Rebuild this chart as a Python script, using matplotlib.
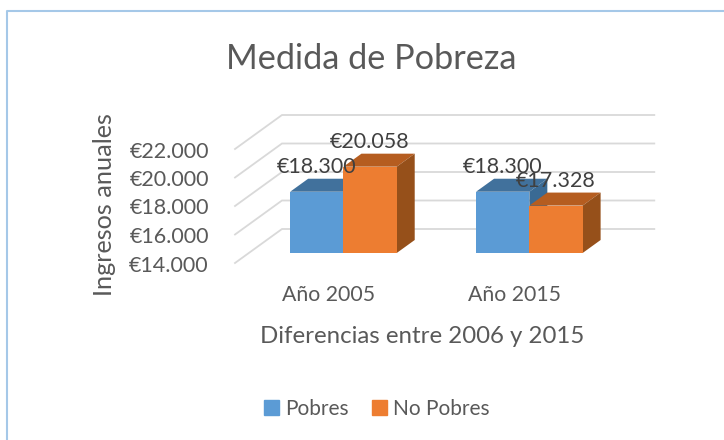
import matplotlib
matplotlib.use('Agg')
import matplotlib.pyplot as plt
import numpy as np
from matplotlib.patches import Patch
from matplotlib.lines import Line2D
from matplotlib.transforms import ScaledTranslation

categorias = ['Año 2005', 'Año 2015']
pobres = [18300, 18300]
no_pobres = [20058, 17328]
ticks = [14000, 16000, 18000, 20000, 22000]
tick_labels = ['€14.000', '€16.000', '€18.000', '€20.000', '€22.000']
etiquetas_pobres = ['€18.300', '€18.300']
etiquetas_no_pobres = ['€20.058', '€17.328']

plt.rcParams['font.family'] = ['Lato', 'DejaVu Sans']
GRIS = '#595959'

fig = plt.figure(figsize=(7.24, 4.40), dpi=100)
# el plano frontal de las barras va de x=250.5 a 622.3 px, y=253 a 139 px
ax = fig.add_axes([250.5/724, 1-253/440, 371.8/724, 114/440])
ax.set_xlim(-0.5, 1.5)
ax.set_ylim(14000, 22000)
ax.patch.set_alpha(0)
for s in ax.spines.values():
    s.set_visible(False)

# factores px -> datos
ux = 1/186.
uy = 2000/28.5
w = 53.3*ux

# piso/pared: lineas de la cuadricula
for v in ticks:
    x0, y0 = -0.5-15.5*ux, v-10*uy
    x1, y1 = -0.5+31.5*ux, v+24*uy
    x2 = 1.5+32*ux
    ax.plot([x0, x1, x2], [y0, y1, y1], color='#D9D9D9', lw=1.3, clip_on=False, zorder=1, solid_joinstyle='miter')

def barra3d(x, v, color, top, side, zo):
    dx, dy = 18*ux, 13*uy
    b = 14000
    ax.fill([x, x+w, x+w+dx, x+dx], [v, v, v+dy, v+dy], color=top, lw=0, clip_on=False, zorder=zo)
    ax.fill([x+w, x+w+dx, x+w+dx, x+w], [b, b+dy, v+dy, v], color=side, lw=0, clip_on=False, zorder=zo)
    ax.bar(x, v-b, w, bottom=b, align='edge', color=color, lw=0, clip_on=False, zorder=zo+0.1)

for i in range(len(categorias)):
    barra3d(i-w, pobres[i], '#5B9BD5', '#41719C', '#3A6A94', 2+i*2)
    barra3d(i, no_pobres[i], '#ED7D31', '#B55D20', '#96501A', 3+i*2)

# etiquetas de datos
for i in range(len(categorias)):
    ax.annotate(etiquetas_pobres[i], (i-w/2, pobres[i]), xytext=(0, 25), textcoords='offset pixels',
                ha='center', va='center', fontsize=15.5, color='#404040', zorder=10, annotation_clip=False)
    ax.annotate(etiquetas_no_pobres[i], (i+w/2, no_pobres[i]), xytext=(0, 25), textcoords='offset pixels',
                ha='center', va='center', fontsize=15.5, color='#404040', zorder=10, annotation_clip=False)

# ejes
ax.set_yticks(ticks)
ax.set_yticklabels(tick_labels, fontsize=15.5, color=GRIS)
ax.set_xticks(range(len(categorias)))
ax.set_xticklabels(categorias, fontsize=15.3, color=GRIS)
ax.tick_params(axis='both', length=0)
ax.tick_params(axis='y', pad=30)
ax.tick_params(axis='x', pad=23)
off_y = ScaledTranslation(0, -10.5/100, fig.dpi_scale_trans)
for t in ax.get_yticklabels():
    t.set_transform(t.get_transform()+off_y)
off_x = ScaledTranslation(-14.5/100, 0, fig.dpi_scale_trans)
for t in ax.get_xticklabels():
    t.set_transform(t.get_transform()+off_x)

fig.text(371/724, 1-59/440, 'Medida de Pobreza', fontsize=24.7, color=GRIS, ha='center', va='center')
fig.text(422/724, 1-336/440, 'Diferencias entre 2006 y 2015', fontsize=17.3, color=GRIS, ha='center', va='center')
fig.text(104/724, 1-205/440, 'Ingresos anuales', fontsize=18.2, color=GRIS, ha='center', va='center', rotation=90)

# leyenda
h = [Patch(color='#5B9BD5', label='Pobres'), Patch(color='#ED7D31', label='No Pobres')]
fig.legend(handles=h, loc='center', bbox_to_anchor=(377/724, 1-409/440), ncol=2, frameon=False,
           fontsize=15, labelcolor=GRIS, handlelength=0.7, handleheight=0.7, handletextpad=0.3, columnspacing=1.15)

# marco del grafico
fig.add_artist(Line2D([7/724, 7/724, 1], [0, 1-11/440, 1-11/440], color='#A5C8E8', lw=1.5, transform=fig.transFigure))

fig.savefig('out.png', dpi=100)
